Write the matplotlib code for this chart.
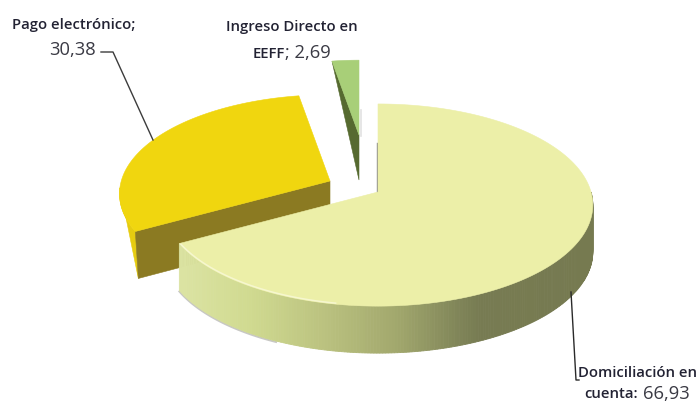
import numpy as np
import matplotlib
matplotlib.use("Agg")
import matplotlib.pyplot as plt
from matplotlib.patches import Polygon
from matplotlib.colors import to_rgb

categories = ["Domiciliación en cuenta", "Pago electrónico", "Ingreso Directo en EEFF"]
values = [66.93, 30.38, 2.69]
value_labels = ["66,93", "30,38", "2,69"]

RX, RY, K, DEPTH = 213.0, 99.4, 0.129, 47.0
edges = np.concatenate([[0], np.cumsum(values)]) / np.sum(values) * 360.0

def rim(theta_deg, apex, scale=1.0):
    t = np.radians(theta_deg)
    w = 1 + K * np.cos(t)
    return np.column_stack([apex[0] + scale * RX * np.sin(t) / w,
                            apex[1] - scale * RY * np.cos(t) / w])

def down(p, d=DEPTH):
    return p + np.array([0, d])

fig = plt.figure(figsize=(7, 4.05), dpi=100)
ax = fig.add_axes([0, 0, 1, 1])
ax.set_xlim(0, 700)
ax.set_ylim(405, 0)
ax.axis("off")

def poly(pts, color, z, lw=0.4):
    ax.add_patch(Polygon(pts, closed=True, facecolor=color, edgecolor=color, lw=lw, zorder=z))

# --- Ingreso Directo slice
apex_g = np.array([359.0, 135.0])
arc_g = rim(np.linspace(edges[2], edges[3], 12), apex_g, 0.85)
ax.plot([360.5, 360.5], [110, 136], color="#e2e2e2", lw=1.2, zorder=1)
poly([arc_g[0], apex_g, down(apex_g, 45)], "#566a30", 2)
poly(np.vstack([[apex_g], arc_g]), "#a8cf78", 3)

# --- Pago electrónico slice
apex_y = np.array([330.0, 181.0])
Y_SCALE = 0.98
arc_y = rim(np.linspace(edges[1], edges[2], 80), apex_y, Y_SCALE)
wall_arc = rim(np.linspace(edges[1], 266, 30), apex_y, Y_SCALE)
foot = down(arc_y[0]) + np.array([3, 0])
poly(np.vstack([wall_arc, [foot]]), "#e6cc10", 4)
poly([arc_y[0], apex_y, down(apex_y), foot], "#8b7a22", 5)
poly(np.vstack([[apex_y], arc_y]), "#f0d60f", 6)

# --- Domiciliación slice
apex_b = np.array([378.0, 192.0])
ax.plot([377, 377], [143, 192], color="#8a8a8a", lw=1.0, zorder=3)
stops_x = [183, 250, 330, 400, 460, 480, 595]
stops_c = np.array([to_rgb(c) for c in
                    ["#dbe3a2", "#d0da90", "#b9c07e", "#a0a66c", "#7f8458", "#777b52", "#767a50"]])
th = np.linspace(90, edges[1], 220)
wall = rim(th, apex_b)
shadow = down(rim(np.linspace(205, edges[1], 40), apex_b), DEPTH + 1)
ax.plot(shadow[:, 0], shadow[:, 1], color="#c8c8c4", lw=1.4, zorder=7)
for i in range(len(th) - 1):
    xm = 0.5 * (wall[i, 0] + wall[i + 1, 0])
    col = [np.interp(xm, stops_x, stops_c[:, j]) for j in range(3)]
    poly([wall[i], wall[i + 1], down(wall[i + 1]), down(wall[i])], col, 8, lw=0.6)
arc_b = rim(np.linspace(edges[0], edges[1], 300), apex_b)
poly(np.vstack([[apex_b], arc_b]), "#ecefa8", 9)
hl = rim(np.linspace(190, edges[1] - 1, 40), apex_b)
ax.plot(hl[:, 0], hl[:, 1] - 1, color="#f6f7cf", lw=1.1, zorder=10)

# --- leader lines
ax.plot([101, 113, 153], [52, 52, 140], color="#3c3c3c", lw=1.0, zorder=11)
ax.plot([571, 576, 579], [292, 380, 380], color="#2a2a2a", lw=1.0, zorder=11)

# --- labels
lab = dict(fontfamily="Open Sans", color="#222233", zorder=12, va="center", fontsize=10.7,
           fontweight="semibold")
val = dict(fontfamily="Open Sans", color="#3a3a44", zorder=12, va="center", fontsize=13.2)
ax.text(74, 25, "Pago electrónico;", ha="center", **lab)
ax.text(72, 50, value_labels[1], ha="center", **val)
ax.text(292, 27, "Ingreso Directo en", ha="center", **lab)
ax.text(253, 54, "EEFF", ha="left", **lab)
ax.text(285, 53, "; " + value_labels[2], ha="left", **val)
ax.text(578, 373, "Domiciliación en", ha="left", **lab)
ax.text(584, 394, "cuenta:", ha="left", **lab)
ax.text(643, 394, value_labels[0], ha="left", **val)

fig.savefig("out.png", dpi=100)
